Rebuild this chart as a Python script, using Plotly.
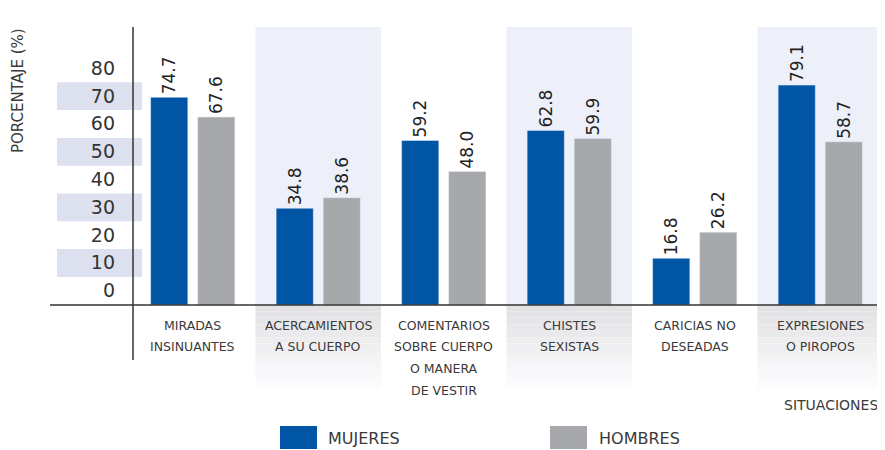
import plotly.graph_objects as go

# Data
CATEGORY_LINES = [
    ["MIRADAS", "INSINUANTES"],
    ["ACERCAMIENTOS", "A SU CUERPO"],
    ["COMENTARIOS", "SOBRE CUERPO", "O MANERA", "DE VESTIR"],
    ["CHISTES", "SEXISTAS"],
    ["CARICIAS NO", "DESEADAS"],
    ["EXPRESIONES", "O PIROPOS"],
]
CATEGORIES = [" ".join(lines) for lines in CATEGORY_LINES]
MUJERES = [74.7, 34.8, 59.2, 62.8, 16.8, 79.1]
HOMBRES = [67.6, 38.6, 48.0, 59.9, 26.2, 58.7]
Y_TICKS = [0, 10, 20, 30, 40, 50, 60, 70, 80]
BANDED_TICKS = [10, 30, 50, 70]
SHADED_COLS = [1, 3, 5]

BLUE = "#0055a4"
GRAY = "#a7a8ab"
TEXT = "#3a3a3a"
FONT = "DejaVu Sans"

# the page body has an 8px margin, so work in page pixels and shift
OFF = 8
W, H = 885 - OFF, 450 - OFF
L, T = 130 - OFF, 27 - OFF
R, B = W - (883 - OFF), H - (305 - OFF)
PW, PH = W - L - R, H - T - B
Y_MAX = 100
LABEL_SHIFT = 5.2  # tick labels sit a bit above their level in the original


def px_x(p):
    return (p - OFF - L) / PW


def px_y(p):
    return (H - B - (p - OFF)) / PH


fig = go.Figure()
for name, vals, color in [("MUJERES", MUJERES, BLUE), ("HOMBRES", HOMBRES, GRAY)]:
    fig.add_trace(go.Bar(
        x=CATEGORIES, y=vals, name=name, marker_color=color,
        text=[f"{v:.1f}" for v in vals], textposition="outside", textangle=-90,
        constraintext="none", cliponaxis=False,
        textfont=dict(size=17, color="#222", family=FONT),
    ))

shapes = []
n = len(CATEGORIES)
# shaded columns, with a fading strip below the axis
for i in SHADED_COLS:
    x0, x1 = i / n, (i + 1) / n
    shapes.append(dict(type="rect", xref="paper", yref="paper", x0=x0, x1=x1,
                       y0=0, y1=1, fillcolor="#eef0f9", line_width=0, layer="below"))
    steps = 14
    for k in range(steps):
        g = int(0xe2 + (0xff - 0xe2) * k / (steps - 1))
        shapes.append(dict(type="rect", xref="paper", yref="paper", x0=x0, x1=x1,
                           y0=px_y(305 + (k + 1) * 90 / steps), y1=px_y(305 + k * 90 / steps),
                           fillcolor=f"rgb({g},{g},{min(255, g + 3)})", line_width=0, layer="below"))

# bands behind some tick labels
for v in BANDED_TICKS:
    shapes.append(dict(type="rect", xref="paper", yref="paper", x0=px_x(57), x1=px_x(142),
                       y0=(v + 0.1) / Y_MAX, y1=(v + 10.1) / Y_MAX,
                       fillcolor="#dde1ef", line_width=0, layer="below"))

# axis lines
shapes.append(dict(type="line", xref="paper", yref="paper", x0=px_x(50), x1=px_x(886),
                   y0=0, y1=0, line=dict(color="#333", width=1.5)))
shapes.append(dict(type="line", xref="paper", yref="paper", x0=px_x(133), x1=px_x(133),
                   y0=px_y(360), y1=1, line=dict(color="#333", width=1.5)))
# legend swatches
shapes.append(dict(type="rect", xref="paper", yref="paper", x0=px_x(280), x1=px_x(317),
                   y0=px_y(449), y1=px_y(426), fillcolor=BLUE, line_width=0))
shapes.append(dict(type="rect", xref="paper", yref="paper", x0=px_x(550), x1=px_x(587),
                   y0=px_y(449), y1=px_y(426), fillcolor=GRAY, line_width=0))

annotations = []
for cat, lines in zip(CATEGORIES, CATEGORY_LINES):
    for k, line in enumerate(lines):
        annotations.append(dict(x=cat, xref="x", y=0, yref="paper", text=line,
                                showarrow=False, xanchor="center", yanchor="middle",
                                yshift=-(20 + 21.7 * k),
                                font=dict(size=12.5, color=TEXT, family=FONT)))
annotations += [
    dict(x=px_x(18), y=px_y(91), xref="paper", yref="paper", text="PORCENTAJE (%)",
         textangle=-90, xanchor="center", yanchor="middle", showarrow=False,
         font=dict(size=15, color=TEXT, family=FONT)),
    dict(x=px_x(831), y=px_y(405), xref="paper", yref="paper", text="SITUACIONES",
         xanchor="center", yanchor="middle", showarrow=False,
         font=dict(size=14, color=TEXT, family=FONT)),
    dict(x=px_x(326), y=px_y(438), xref="paper", yref="paper", text="MUJERES",
         xanchor="left", yanchor="middle", showarrow=False,
         font=dict(size=16, color=TEXT, family=FONT)),
    dict(x=px_x(597), y=px_y(438), xref="paper", yref="paper", text="HOMBRES",
         xanchor="left", yanchor="middle", showarrow=False,
         font=dict(size=16, color=TEXT, family=FONT)),
]

fig.update_layout(
    width=W, height=H,
    margin=dict(l=L, r=R, t=T, b=B),
    paper_bgcolor="white", plot_bgcolor="rgba(0,0,0,0)",
    barmode="group", bargap=0.25, bargroupgap=0.21,
    showlegend=False,
    font=dict(family=FONT, color=TEXT),
    shapes=shapes, annotations=annotations,
    xaxis=dict(range=[-0.5, n - 0.5], showticklabels=False, showgrid=False,
               zeroline=False, showline=False, fixedrange=True),
    yaxis=dict(range=[0, Y_MAX], showgrid=False, zeroline=False, showline=False,
               tickvals=[v + LABEL_SHIFT for v in Y_TICKS], ticktext=[str(v) for v in Y_TICKS],
               ticks="", ticklabelstandoff=14, tickfont=dict(size=19, color="#333", family=FONT)),
)

fig.write_html("out.html")
